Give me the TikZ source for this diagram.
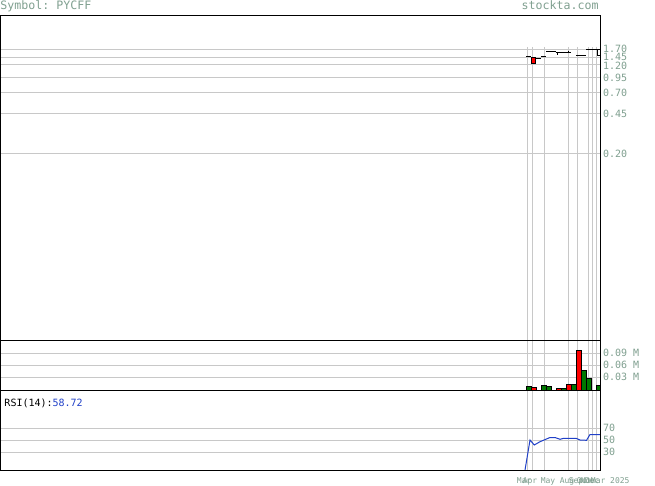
\documentclass[tikz,border=0pt]{standalone}
\usepackage{fontspec}
\setmonofont{DejaVu Sans Mono}

\definecolor{labelgreen}{RGB}{128,160,144}
\definecolor{gridgray}{RGB}{200,200,200}
\definecolor{upgreen}{RGB}{0,120,0}
\definecolor{downred}{RGB}{255,0,0}
\definecolor{rsiblue}{RGB}{32,64,200}

\begin{document}
\begin{tikzpicture}[x=1pt, y=-1pt, line width=1pt, font=\ttfamily,
    axislbl/.style={font=\ttfamily\fontsize{10}{10}\selectfont, text=labelgreen, anchor=west, inner sep=0pt},
    datelbl/.style={font=\ttfamily\fontsize{8}{8}\selectfont, text=labelgreen, anchor=base, inner sep=0pt},
    volbar/.style={draw=black, line width=0.8pt}]
\useasboundingbox (0,0) rectangle (655,486);
\fill[white] (0,0) rectangle (655,486);

% Header
\node[font=\ttfamily\fontsize{11.6}{12}\selectfont, text=labelgreen, anchor=base west, inner sep=0pt] (symbol) at (0,10) {Symbol: PYCFF};
\node[font=\ttfamily\fontsize{11.6}{12}\selectfont, text=labelgreen, anchor=base east, inner sep=0pt] (site) at (599,10) {stockta.com};

% Panel A: price (log scale)
\begin{scope}
    % grid
    \draw[gridgray] (1,50) -- (600,50) (1,57.5) -- (600,57.5) (1,64.5) -- (600,64.5)
        (1,78) -- (600,78) (1,93) -- (600,93) (1,114) -- (600,114) (1,154) -- (600,154);
    \draw[gridgray] (527,47) -- (527,340) (532,47) -- (532,340) (544,47) -- (544,340)
        (568,47) -- (568,340) (577,47) -- (577,340) (588,47) -- (588,340)
        (592,47) -- (592,340) (596,47) -- (596,340);

    % candles
    \draw (526,57) -- (531,57);
    \filldraw[fill=downred, draw=black, line width=0.8pt] (531,57.5) rectangle (535.5,63.5);
    \draw (535.5,58.5) -- (541,58.5);
    \draw (541,57) -- (546,57);
    \fill[black] (546,51) rectangle (555.5,52.5);
    \draw (555.5,53) -- (561,53);
    \draw (557.5,53) -- (557.5,55);
    \draw (561,52.5) -- (565.5,52.5);
    \draw (565.5,52.5) -- (571,52.5);
    \draw (568.5,51) -- (568.5,53.5);
    \draw (576,55.5) -- (586,55.5);
    \draw (586,49.5) -- (597,49.5);
    \filldraw[fill=white, draw=black] (597,49.5) rectangle (600.5,55.5);

    % price axis
    \node[axislbl] (p170) at (602.5,49) {1.70};
    \node[axislbl] (p145) at (602.5,57) {1.45};
    \node[axislbl] (p120) at (602.5,66) {1.20};
    \node[axislbl] (p095) at (602.5,78) {0.95};
    \node[axislbl] (p070) at (602.5,92.5) {0.70};
    \node[axislbl] (p045) at (602.5,114) {0.45};
    \node[axislbl] (p020) at (602.5,154) {0.20};
\end{scope}

% Panel B: volume
\begin{scope}
    \draw[gridgray] (1,353) -- (600,353) (1,365.5) -- (600,365.5) (1,377.5) -- (600,377.5);
    \draw[gridgray] (527,340) -- (527,390) (532,340) -- (532,390) (544,340) -- (544,390)
        (568,340) -- (568,390) (577,340) -- (577,390) (588,340) -- (588,390)
        (592,340) -- (592,390) (596,340) -- (596,390);

    % volume bars
    \filldraw[volbar, fill=upgreen] (526,386) rectangle (531,390);
    \filldraw[volbar, fill=downred] (531,387.3) rectangle (536,390);
    \filldraw[volbar, fill=upgreen] (541,385) rectangle (546,390);
    \filldraw[volbar, fill=upgreen] (546,386) rectangle (551,390);
    \filldraw[volbar, fill=downred] (556,388.3) rectangle (561,390);
    \filldraw[volbar, fill=upgreen] (561,388.3) rectangle (566,390);
    \filldraw[volbar, fill=downred] (566,384) rectangle (571,390);
    \filldraw[volbar, fill=upgreen] (571,384) rectangle (576,390);
    \filldraw[volbar, fill=downred] (576,350) rectangle (581,390);
    \filldraw[volbar, fill=upgreen] (581,370) rectangle (586,390);
    \filldraw[volbar, fill=upgreen] (586,378.3) rectangle (591,390);
    \filldraw[volbar, fill=upgreen] (596,385) rectangle (600.5,390);

    \node[axislbl] (v09) at (602.5,352.7) {0.09 M};
    \node[axislbl] (v06) at (602.5,365) {0.06 M};
    \node[axislbl] (v03) at (602.5,376.7) {0.03 M};
\end{scope}

% Panel C: RSI(14)
\begin{scope}
    \draw[gridgray] (1,428.3) -- (600,428.3) (1,440.3) -- (600,440.3) (1,452.3) -- (600,452.3);
    \draw[gridgray] (527,390) -- (527,470) (532,390) -- (532,470) (544,390) -- (544,470)
        (568,390) -- (568,470) (577,390) -- (577,470) (588,390) -- (588,470)
        (592,390) -- (592,470) (596,390) -- (596,470);

    \draw[rsiblue] (525,470) -- (530,440) -- (534.3,445) -- (540,441.7) -- (550,437.5)
        -- (555,437.5) -- (560,439.3) -- (563.5,438.3) -- (576,438.3) -- (580,440)
        -- (586.5,440.3) -- (590,434.5) -- (600,434.5);

    \node[font=\ttfamily\fontsize{10}{10}\selectfont, anchor=base west, inner sep=0pt] (rsilbl) at (4,406.5) {RSI(14):\textcolor{rsiblue}{58.72}};
    \node[axislbl] (r70) at (602.5,428.3) {70};
    \node[axislbl] (r50) at (602.5,440.3) {50};
    \node[axislbl] (r30) at (602.5,452.3) {30};
\end{scope}

% frame
\draw[black] (0.5,15.5) rectangle (600,470);
\draw[black] (0.5,340) -- (600,340);
\draw[black] (0.5,390) -- (600,390);

% dates
\node[datelbl] (dmar) at (524,483) {Mar};
\node[datelbl] (dapr) at (530,483) {Apr};
\node[datelbl] (dmay) at (548,483) {May};
\node[datelbl] (daug) at (567,483) {Aug};
\node[datelbl] (dsep) at (576,483) {Sep};
\node[datelbl] (doct) at (584,483) {Oct};
\node[datelbl] (dnov) at (588,483) {Nov};
\node[datelbl] (ddec) at (592,483) {Dec};
\node[datelbl, anchor=base east] (dmar25) at (630,483) {Mar 2025};
\end{tikzpicture}
\end{document}
